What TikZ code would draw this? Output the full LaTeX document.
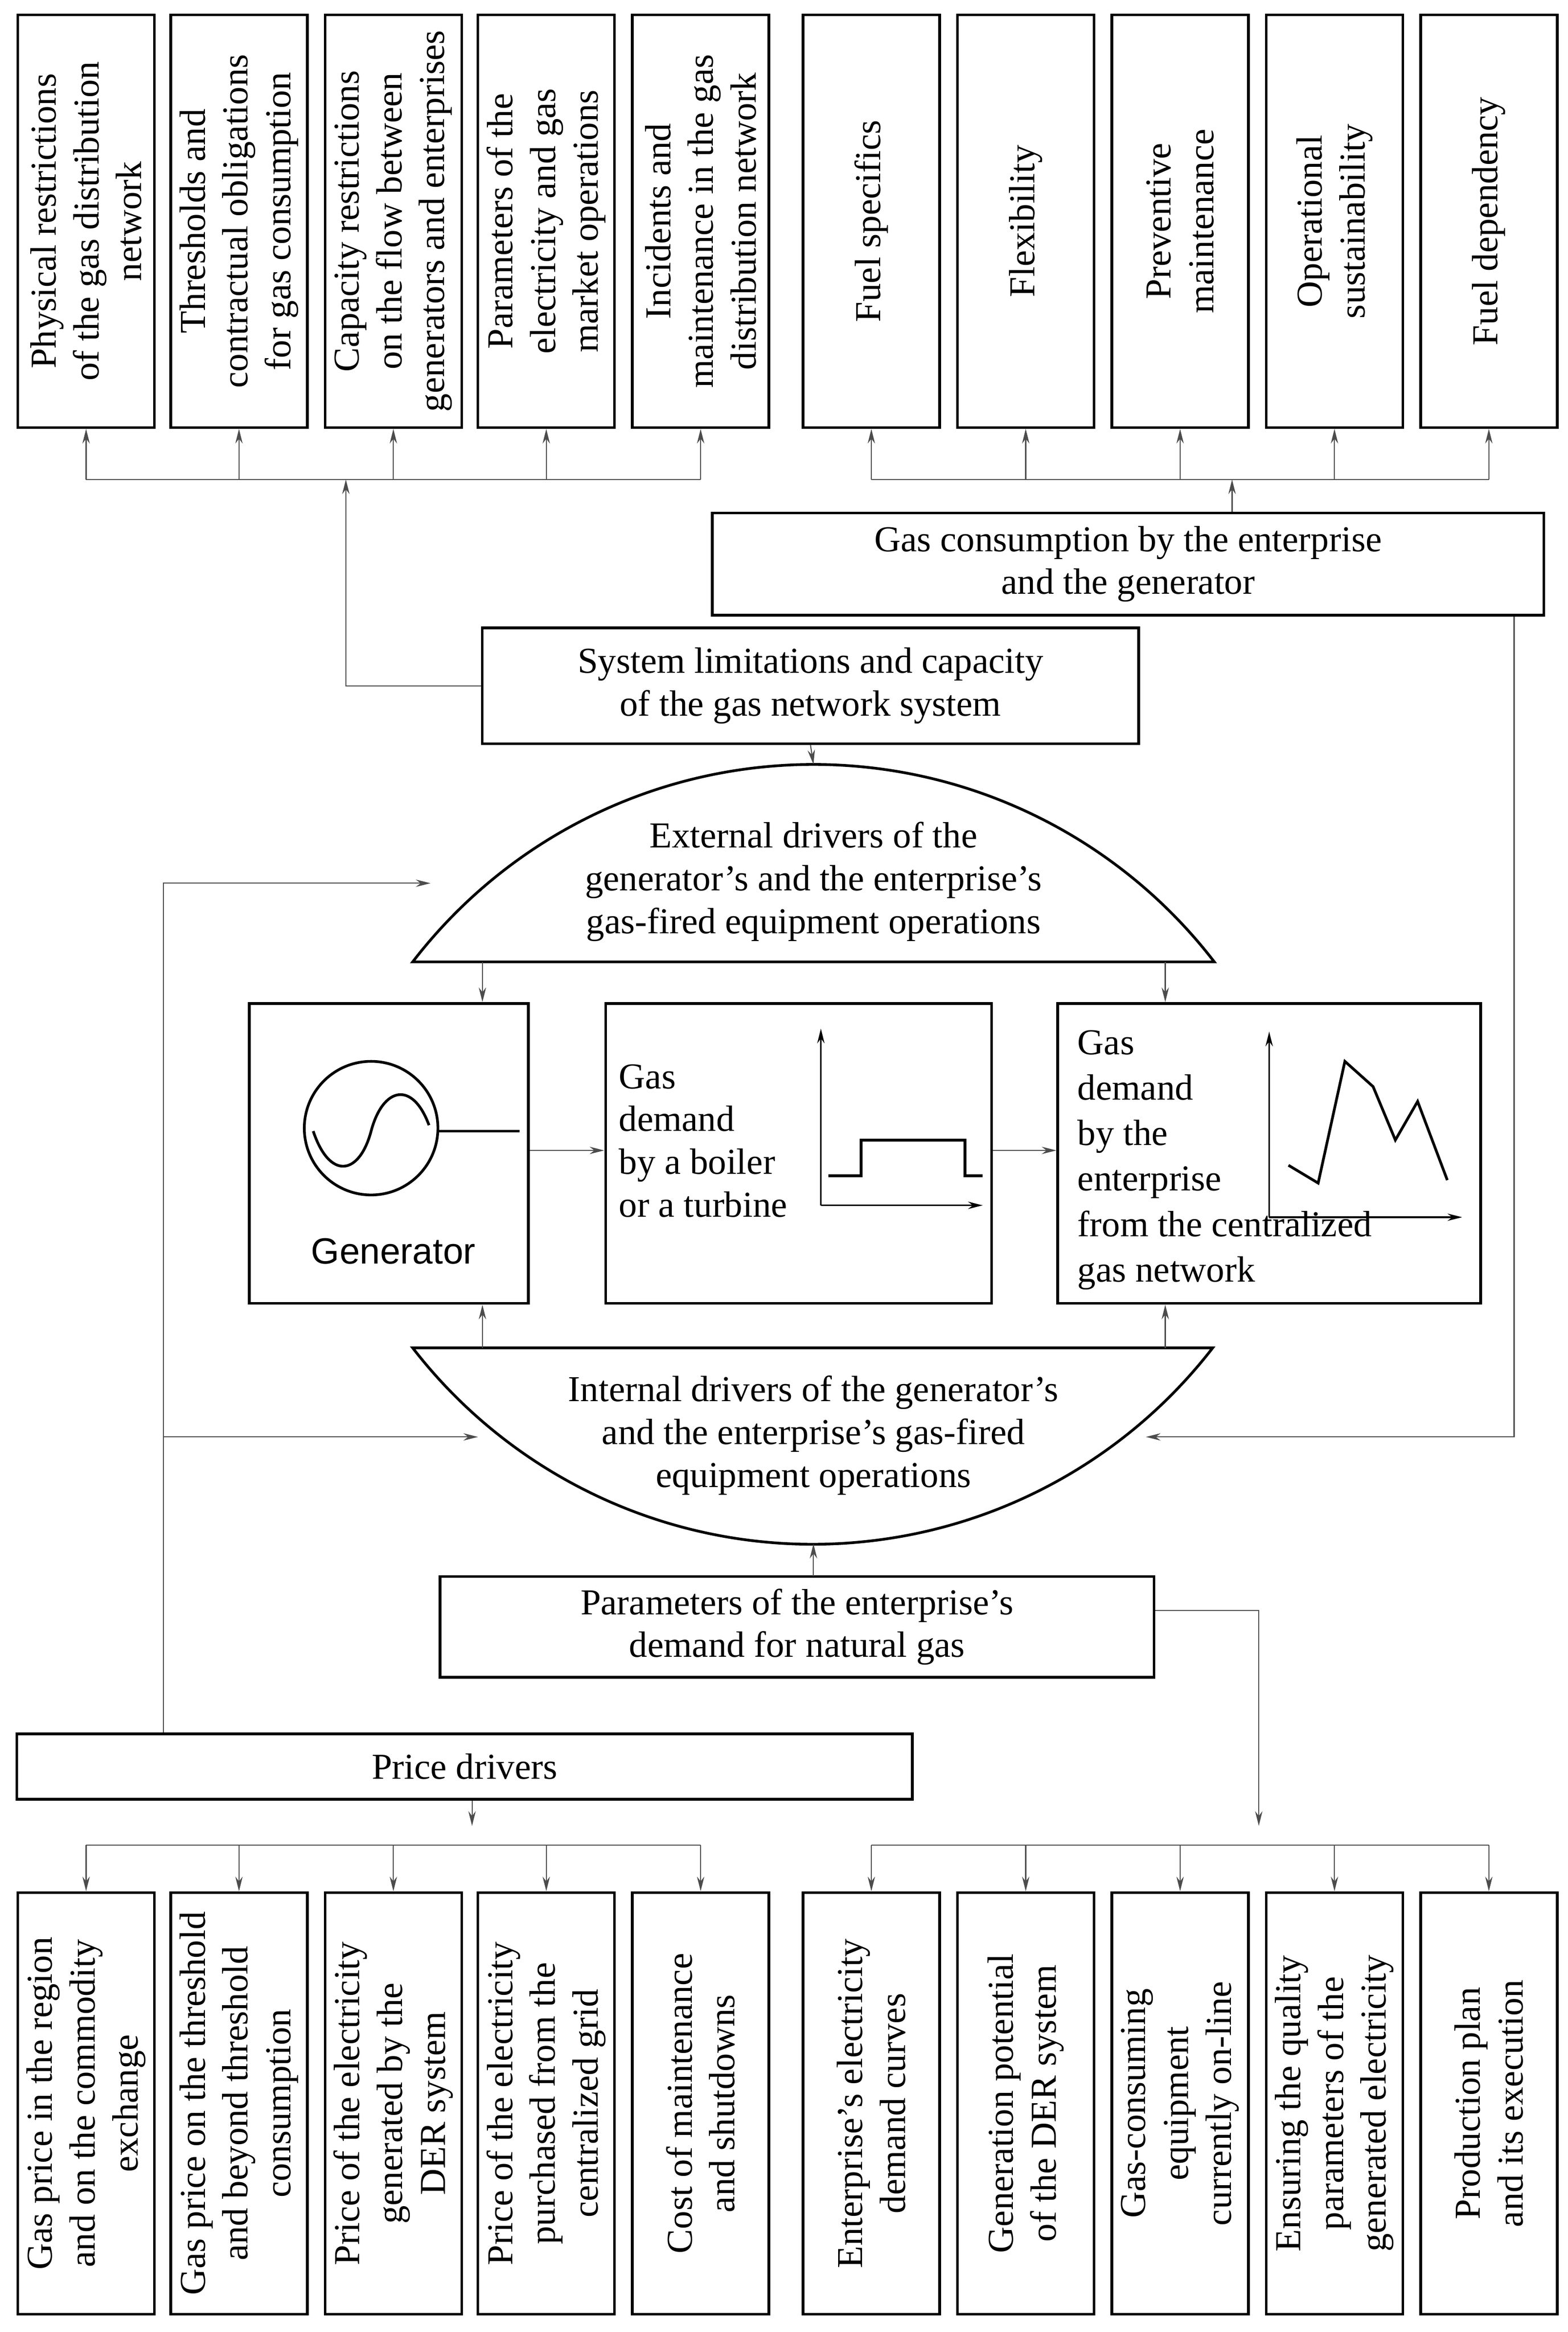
\documentclass[tikz,border=0pt]{standalone}
\usepackage{fontspec}
\setmainfont{Liberation Serif}
\newfontfamily\sansf{Liberation Sans}
\usetikzlibrary{arrows.meta}
\tikzset{
  box/.style={draw, line width=1.3pt, inner sep=0pt},
  conn/.style={draw=black!70, line width=0.5pt, -{Stealth[length=7pt,width=3.5pt]}},
  bus/.style={draw=black!70, line width=0.5pt},
  lbl/.style={align=center, font=\fontsize{17.5}{20.5}\selectfont},
}
\begin{document}
\begin{tikzpicture}[x=0.025cm, y=-0.025cm]
  \useasboundingbox (0,0) rectangle (1056,1571);

  % top row of boxes
  \foreach \i/\x/\t in {1/58/{Physical restrictions\\of the gas distribution\\network},
      2/161/{Thresholds and\\contractual obligations\\for gas consumption},
      3/265/{Capacity restrictions\\on the flow between\\generators and enterprises},
      4/368/{Parameters of the\\electricity and gas\\market operations},
      5/472/{Incidents and\\maintenance in the gas\\distribution network},
      6/587/{Fuel specifics},
      7/691/{Flexibility},
      8/795/{Preventive\\maintenance},
      9/899/{Operational\\sustainability},
      10/1003/{Fuel dependency}}{
    \node[box, minimum width=2.3cm, minimum height=6.95cm] (top\i) at (\x,149) {};
    \node[lbl, rotate=90] at (top\i) {\t};
    \draw[conn] (\x,323) -- (top\i.south);
  }
  \draw[bus] (58,323) -- (472,323);
  \draw[bus] (587,323) -- (1003,323);

  % bottom row of boxes
  \foreach \i/\x/\t in {1/58/{Gas price in the region\\and on the commodity\\exchange},
      2/161/{Gas price on the threshold\\and beyond threshold\\consumption},
      3/265/{Price of the electricity\\generated by the\\DER system},
      4/368/{Price of the electricity\\purchased from the\\centralized grid},
      5/472/{Cost of maintenance\\and shutdowns},
      6/587/{Enterprise's electricity\\demand curves},
      7/691/{Generation potential\\of the DER system},
      8/795/{Gas-consuming\\equipment\\currently on-line},
      9/899/{Ensuring the quality\\parameters of the\\generated electricity},
      10/1003/{Production plan\\and its execution}}{
    \node[box, minimum width=2.3cm, minimum height=7.1cm] (bot\i) at (\x,1417) {};
    \node[lbl, rotate=90] at (bot\i) {\t};
    \draw[conn] (\x,1243) -- (bot\i.north);
  }
  \draw[bus] (58,1243) -- (472,1243);
  \draw[bus] (587,1243) -- (1003,1243);

  % middle boxes
  \node[box, lbl, minimum width=14cm, minimum height=1.72cm] (cons) at (760,380)
    {Gas consumption by the enterprise\\and the generator};
  \node[box, lbl, minimum width=11.05cm, minimum height=1.95cm] (sys) at (546,462)
    {System limitations and capacity\\of the gas network system};
  \node[box, lbl, minimum width=12.02cm, minimum height=1.7cm] (par) at (537,1096)
    {Parameters of the enterprise's\\demand for natural gas};
  \node[box, lbl, minimum width=15.08cm, minimum height=1.1cm] (price) at (313,1190)
    {Price drivers};

  % lenses
  \draw[line width=1.3pt] (278,648) arc[start angle=217.55, end angle=322.45, radius=340.6] -- cycle;
  \node[lbl] (ext) at (548,594) {External drivers of the\\generator's and the enterprise's\\gas-fired equipment operations};
  \draw[line width=1.3pt] (278,908) arc[start angle=142.3, end angle=37.7, radius=340.6] -- cycle;
  \node[lbl] (int) at (548,967) {Internal drivers of the generator's\\and the enterprise's gas-fired\\equipment operations};
  \coordinate (exttop) at (548,515);
  \coordinate (intbot) at (548,1040);

  % generator and demand boxes
  \node[box, minimum width=4.7cm, minimum height=5.05cm] (gen) at (262,777) {};
  \node[box, minimum width=6.5cm, minimum height=5.05cm] (boil) at (538,777) {};
  \node[box, minimum width=7.12cm, minimum height=5.05cm] (ent) at (855,777) {};

  \draw[line width=1.3pt] (250,760) circle[radius=45];
  \draw[line width=1.3pt] (295,762) -- (350,762);
  \draw[line width=1.3pt] (211,762) .. controls (222,795) and (242,792) .. (250,762)
    .. controls (258,732) and (278,728) .. (289,758);
  \node[font=\sansf\fontsize{17.5}{20.5}\selectfont] (gentxt) at (265,843) {Generator};

  \node[lbl, align=left, anchor=north west] (boiltxt) at (412,712) {Gas\\demand\\by a boiler\\or a turbine};
  \draw[conn, black, line width=0.8pt] (553,812) -- (553,693);
  \draw[conn, black, line width=0.8pt] (553,812) -- (662,812);
  \draw[line width=1.3pt] (558,792) -- (580,792) -- (580,768) -- (650,768) -- (650,792) -- (662,792);

  \node[lbl, align=left, anchor=north west, font=\fontsize{17.5}{21.8}\selectfont] (enttxt) at (721,689) {Gas\\demand\\by the\\enterprise\\from the centralized\\gas network};
  \draw[conn, black, line width=0.8pt] (855,820) -- (855,695);
  \draw[conn, black, line width=0.8pt] (855,820) -- (985,820);
  \draw[line width=1.3pt] (868,785) -- (888,797) -- (906,715) -- (925,732) -- (940,768) -- (955,742) -- (975,795);

  % connectors
  \coordinate (parup) at (548,1062);
  \draw[conn] (sys.west) -| (233,323);
  \draw[conn] (cons.north -| 830,0) -- (830,323);
  \draw[conn] (sys.south) -- (exttop);
  \draw[conn] (325,648) -- (gen.north -| 325,0);
  \draw[conn] (785,648) -- (ent.north -| 785,0);
  \draw[conn] (gen.east |- 0,775) -- (boil.west |- 0,775);
  \draw[conn] (boil.east |- 0,775) -- (ent.west |- 0,775);
  \draw[conn] (325,908) -- (gen.south -| 325,0);
  \draw[conn] (785,908) -- (ent.south -| 785,0);
  \draw[conn] (parup) -- (intbot);
  \draw[conn] (price.north -| 110,0) -- (110,595) -- (290,595);
  \draw[conn] (110,968) -- (322,968);
  \draw[conn] (cons.south -| 1020,0) -- (1020,968) -- (772,968);
  \draw[conn] (par.east |- 0,1085) -| (848,1230);
  \draw[conn] (price.south -| 318,0) -- (318,1230);
\end{tikzpicture}
\end{document}
